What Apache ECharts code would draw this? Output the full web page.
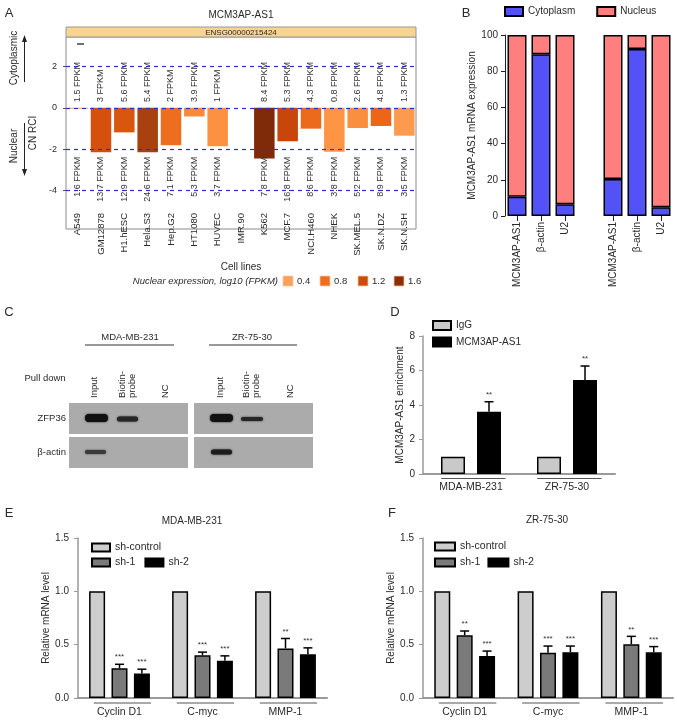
<!DOCTYPE html>
<html><head><meta charset="utf-8">
<script src="https://cdn.jsdelivr.net/npm/echarts@6/dist/echarts.min.js"></script>
<style>html,body{margin:0;padding:0;background:#fff}#c{width:677px;height:721px}</style>
</head><body><div id="c"></div>
<script>
// ---------- Panel A data ----------
const cellLines = ['A549','GM12878','H1.hESC','Hela.S3','Hep.G2','HT1080','HUVEC','IMR.90','K562','MCF.7','NCI.H460','NHEK','SK.MEL.5','SK.N.DZ','SK.N.SH'];
const cnRci = [-0.05,-2.15,-1.19,-2.15,-1.81,-0.42,-1.86,null,-2.45,-1.62,-1.01,-2.13,-0.98,-0.88,-1.35];
const cytoFpkm = ['1.5 FPKM','3 FPKM','5.6 FPKM','5.4 FPKM','2 FPKM','3.9 FPKM','1 FPKM','','8.4 FPKM','5.3 FPKM','4.3 FPKM','0.8 FPKM','2.6 FPKM','4.8 FPKM','1.3 FPKM'];
const nucFpkm = ['1.6 FPKM','13.7 FPKM','12.9 FPKM','24.6 FPKM','7.1 FPKM','5.3 FPKM','3.7 FPKM','','7.8 FPKM','16.8 FPKM','8.6 FPKM','3.8 FPKM','5.2 FPKM','8.9 FPKM','3.5 FPKM'];
const aTicks = [-4,-2,0,2];
const aRefLines = [2,0,-2,-4];
const nucLegendSteps = ['0.4','0.8','1.2','1.6'];
// ---------- Panel B data ----------
const bCats = ['MCM3AP-AS1','β-actin','U2','','MCM3AP-AS1','β-actin','U2'];
const bCytoplasm = [10.7,89.3,6.5,null,20.4,92.3,4.8];
const bNucleus = [89.3,10.7,93.5,null,79.6,7.7,95.2];
// ---------- Panel D data ----------
const dCats = ['MDA-MB-231','ZR-75-30'];
const dIgG = [1,1];
const dMCM = [3.61,5.45];
const dMCMErr = [0.58,0.81];
const dStars = ['**','**'];
// ---------- Panel E / F data ----------
const geneCats = ['Cyclin D1','C-myc','MMP-1'];
const eControl = [1,1,1];
const eSh1 = [0.28,0.40,0.465];
const eSh1Err = [0.036,0.03,0.093];
const eSh1Stars = ['***','***','**'];
const eSh2 = [0.23,0.35,0.41];
const eSh2Err = [0.04,0.045,0.06];
const eSh2Stars = ['***','***','***'];
const fControl = [1,1,1];
const fSh1 = [0.588,0.425,0.503];
const fSh1Err = [0.04,0.062,0.075];
const fSh1Stars = ['**','***','**'];
const fSh2 = [0.394,0.43,0.428];
const fSh2Err = [0.046,0.057,0.054];
const fSh2Stars = ['***','***','***'];

// ---------- styles ----------
const FONT = "'Liberation Sans', Arial, Helvetica, sans-serif";
const TXT = '#2a2a2a';
const aColors = ['#FDA05A','#D4500C','#D9560F','#A8400F','#EF6D1E','#F7893A','#FC9141','#FC9141','#7F2A08','#C8460C','#EC6A1C','#FD9545','#FA8F3F','#EB6617','#FD9A4E'];
const legendColors = ['#FDA05A','#F26D1B','#CC4C0A','#8C2D04'];

const chart = echarts.init(document.getElementById('c'), null, {renderer:'canvas'});

function errSeries(xi, vals, errs, stars, idx, nBars, barW, gap) {
  return {
    type:'custom', xAxisIndex:xi, yAxisIndex:xi, z:5, clip:false, silent:true,
    data: vals.map((v,i)=>[i, v, v+errs[i]]),
    renderItem(params, api){
      const c = api.coord([api.value(0), api.value(1)]);
      const t = api.coord([api.value(0), api.value(2)]);
      const x = c[0] + (idx - (nBars-1)/2) * (barW + gap);
      return {type:'group', children:[
        {type:'line', shape:{x1:x,y1:c[1],x2:x,y2:t[1]}, style:{stroke:'#000',lineWidth:1.5}},
        {type:'line', shape:{x1:x-4.5,y1:t[1],x2:x+4.5,y2:t[1]}, style:{stroke:'#000',lineWidth:1.5}},
        {type:'text', x:x, y:t[1]-3, style:{text:stars[params.dataIndex], align:'center', verticalAlign:'bottom', fontSize:8, fontFamily:FONT, fill:'#333'}}
      ]};
    }
  };
}
function underlineSeries(xi, n, l, r, dy) {
  return {
    type:'custom', xAxisIndex:xi, yAxisIndex:xi, clip:false, silent:true,
    data: Array.from({length:n}, (_, i) => [i, 0]),
    renderItem(params, api){
      const c = api.coord([api.value(0), 0]);
      const bw = api.size([1,0])[0];
      return {type:'line', shape:{x1:c[0]-bw*l, y1:c[1]+dy, x2:c[0]+bw*r, y2:c[1]+dy}, style:{stroke:'#555', lineWidth:1}};
    }
  };
}
function fpkmText(texts, y, align) {
  return {
    type:'custom', xAxisIndex:0, yAxisIndex:0, clip:false, silent:true, z:6,
    data: texts.map((t,i)=>[i, y]),
    renderItem(params, api){
      const p = api.coord([api.value(0), api.value(1)]);
      return {type:'text', x:p[0], y:p[1], rotation:Math.PI/2,
        style:{text:texts[params.dataIndex], align:align, verticalAlign:'middle', fontSize:9, fontFamily:FONT, fill:'#333'}};
    }
  };
}

const greyAxis = {lineStyle:{color:'#9a9a9a', width:2}};
const valueAxisCommon = {
  axisLine:{show:true, lineStyle:{color:'#9a9a9a', width:1.5}},
  axisTick:{show:true, length:4, lineStyle:{color:'#9a9a9a'}},
  splitLine:{show:false},
  axisLabel:{fontSize:10, color:TXT, fontFamily:FONT, margin:8},
  nameLocation:'middle', nameRotate:90,
  nameTextStyle:{fontSize:10, color:TXT, fontFamily:FONT}
};

// graphic elements
const G = [];
function txt(x,y,text,o){ G.push(Object.assign({type:'text', x:x, y:y, silent:true,
  style:Object.assign({text:text, fontSize:10, fontFamily:FONT, fill:TXT, align:'center', verticalAlign:'middle'}, (o&&o.style)||{})},
  o&&o.rotation?{rotation:o.rotation}:{})); }
// panel letters
[['A',9,13],['B',466,13],['C',9,312],['D',395,312],['E',9,513],['F',392,513]].forEach(a=>txt(a[1],a[2],a[0],{style:{fontSize:13}}));
// Panel A decorations
txt(241,15,'MCM3AP-AS1');
G.push({type:'rect', shape:{x:66,y:27,width:350,height:10}, style:{fill:'#F7D48F', stroke:'#999', lineWidth:1}, silent:true});
txt(241,32.5,'ENSG00000215424',{style:{fontSize:8}});
G.push({type:'line', shape:{x1:77,y1:44,x2:84,y2:44}, style:{stroke:'#222', lineWidth:1.3}, silent:true});
txt(14,58,'Cytoplasmic',{rotation:Math.PI/2});
txt(14,146,'Nuclear',{rotation:Math.PI/2});
G.push({type:'line', shape:{x1:24.5,y1:82,x2:24.5,y2:40}, style:{stroke:'#222', lineWidth:1}, silent:true});
G.push({type:'polygon', shape:{points:[[24.5,35],[22,42],[27,42]]}, style:{fill:'#222'}, silent:true});
G.push({type:'line', shape:{x1:24.5,y1:123,x2:24.5,y2:170}, style:{stroke:'#222', lineWidth:1}, silent:true});
G.push({type:'polygon', shape:{points:[[24.5,176],[22,169],[27,169]]}, style:{fill:'#222'}, silent:true});
txt(278,281,'Nuclear expression, log10 (FPKM)',{style:{align:'right', fontStyle:'italic', fontSize:9.5}});
const legX = [283,320,358,394];
nucLegendSteps.forEach((s,i)=>{
  G.push({type:'rect', shape:{x:legX[i],y:276,width:10,height:10}, style:{fill:legendColors[i], stroke:'#f4c9a8', lineWidth:0.8}, silent:true});
  txt(legX[i]+14,281,s,{style:{align:'left', fontSize:9.5}});
});
// Panel C (western blot)
txt(130,337,'MDA-MB-231',{style:{fontSize:9.5}});
txt(252,337,'ZR-75-30',{style:{fontSize:9.5}});
G.push({type:'line', shape:{x1:85,y1:345,x2:174,y2:345}, style:{stroke:'#333', lineWidth:1}, silent:true});
G.push({type:'line', shape:{x1:209,y1:345,x2:297,y2:345}, style:{stroke:'#333', lineWidth:1}, silent:true});
txt(45,378,'Pull down',{style:{fontSize:9.5}});
[[94,'Input'],[127.5,'Biotin-\nprobe'],[165,'NC'],[220,'Input'],[251.5,'Biotin-\nprobe'],[290,'NC']].forEach(c=>{
  txt(c[0],398,c[1],{rotation:Math.PI/2, style:{align:'left', fontSize:9.5, lineHeight:9.5}});
});
[[69,403],[194,403],[69,437],[194,437]].forEach(b=>{
  G.push({type:'rect', shape:{x:b[0],y:b[1],width:119,height:31}, style:{fill:'#ABABAB'}, silent:true});
});
txt(66,418,'ZFP36',{style:{align:'right', fontSize:9.5}});
txt(66,452,'β-actin',{style:{align:'right', fontSize:9.5}});
[[85,414,23,8,'#111'],[117,416.5,21,5,'#262626'],[210,414,23,8,'#111'],[241,417,22,4,'#262626'],[85,450,21,4,'#3a3a3a'],[211,449.5,21,5,'#1c1c1c']].forEach(b=>{
  G.push({type:'rect', shape:{x:b[0],y:b[1],width:b[2],height:b[3],r:b[3]/2}, style:{fill:b[4], shadowBlur:2, shadowColor:b[4]}, silent:true});
});
// E/F titles
txt(192,521,'MDA-MB-231');
txt(547,520,'ZR-75-30');

const legendBase = {padding:0, icon:'rect', selectedMode:false, textStyle:{fontSize:10,color:TXT,fontFamily:FONT}};
const L = o => Object.assign({}, legendBase, o);
const option = {
  animation:false,
  textStyle:{fontFamily:FONT},
  graphic:G,
  legend:[
    L({data:['Cytoplasm','Nucleus'], left:504, top:6, itemWidth:18, itemHeight:9, itemGap:21}),
    L({data:['IgG','MCM3AP-AS1'], orient:'vertical', left:432, top:320, itemWidth:18, itemHeight:9, itemGap:5.5}),
    L({data:['sh-control'], left:91, top:542, itemWidth:18, itemHeight:8, textStyle:{fontSize:10.5,color:TXT,fontFamily:FONT}}),
    L({data:['sh-1','sh-2'], left:91, top:557, itemWidth:18, itemHeight:8, itemGap:9, textStyle:{fontSize:10.5,color:TXT,fontFamily:FONT}}),
    L({data:['sh-control'], left:434, top:541, itemWidth:20, itemHeight:8, textStyle:{fontSize:10.5,color:TXT,fontFamily:FONT}}),
    L({data:['sh-1','sh-2'], left:434, top:557, itemWidth:20, itemHeight:8, itemGap:7, textStyle:{fontSize:10.5,color:TXT,fontFamily:FONT}})
  ],
  grid:[
    {left:66, top:37, width:350, height:192, show:true, borderColor:'#8a8a8a', borderWidth:1, backgroundColor:'transparent'},
    {left:505, top:35, width:168, height:181},
    {left:423, top:336, width:192, height:138},
    {left:78, top:538, width:249, height:160},
    {left:423, top:538, width:250, height:160}
  ],
  xAxis:[
    {gridIndex:0, type:'category', data:cellLines, axisLine:{show:false}, axisTick:{show:false},
     axisLabel:{interval:0, rotate:90, margin:-16, fontSize:9.5, color:TXT, fontFamily:FONT},
     name:'Cell lines', nameLocation:'middle', nameGap:33, nameTextStyle:{fontSize:10,color:TXT,fontFamily:FONT}},
    {gridIndex:1, type:'category', data:bCats, axisLine:{show:false},
     axisTick:{show:true, alignWithLabel:true, length:5, lineStyle:{color:'#222'}, interval:(i,v)=>v!==''},
     axisLabel:{interval:0, rotate:90, margin:6, fontSize:10, color:TXT, fontFamily:FONT}},
    {gridIndex:2, type:'category', data:dCats, axisLine:Object.assign({show:true},greyAxis), axisTick:{show:false},
     axisLabel:{fontSize:10.5, color:TXT, fontFamily:FONT, margin:8}},
    {gridIndex:3, type:'category', data:geneCats, axisLine:Object.assign({show:true},greyAxis), axisTick:{show:false},
     axisLabel:{fontSize:10.5, color:TXT, fontFamily:FONT, margin:9}},
    {gridIndex:4, type:'category', data:geneCats, axisLine:Object.assign({show:true},greyAxis), axisTick:{show:false},
     axisLabel:{fontSize:10.5, color:TXT, fontFamily:FONT, margin:9}}
  ],
  yAxis:[
    {gridIndex:0, type:'value', min:-5.86, max:3.42, axisLine:{show:false}, splitLine:{show:false},
     axisTick:{show:true, length:3, customValues:aTicks, lineStyle:{color:'#555'}},
     axisLabel:{customValues:aTicks, fontSize:9, color:TXT, fontFamily:FONT, margin:9},
     name:'CN RCI', nameLocation:'middle', nameRotate:90, nameGap:20, nameTextStyle:{fontSize:10,color:TXT,fontFamily:FONT}},
    {gridIndex:1, type:'value', min:0, max:100, interval:20, splitLine:{show:false},
     axisLine:{show:true, lineStyle:{color:'#222', width:1}}, axisTick:{show:true, length:4, lineStyle:{color:'#222'}},
     axisLabel:{fontSize:10, color:TXT, fontFamily:FONT, margin:7},
     name:'MCM3AP-AS1 mRNA expression', nameLocation:'middle', nameRotate:90, nameGap:28, nameTextStyle:{fontSize:10,color:TXT,fontFamily:FONT}},
    Object.assign({gridIndex:2, type:'value', min:0, max:8, interval:2, name:'MCM3AP-AS1 enrichment', nameGap:17}, valueAxisCommon),
    Object.assign({gridIndex:3, type:'value', min:0, max:1.5, interval:0.5, name:'Relative mRNA level', nameGap:26}, valueAxisCommon,
      {axisLabel:Object.assign({}, valueAxisCommon.axisLabel, {formatter:v=>v.toFixed(1), margin:9})}),
    Object.assign({gridIndex:4, type:'value', min:0, max:1.5, interval:0.5, name:'Relative mRNA level', nameGap:25}, valueAxisCommon,
      {axisLabel:Object.assign({}, valueAxisCommon.axisLabel, {formatter:v=>v.toFixed(1), margin:9})})
  ],
  series:[
    // Panel A
    {type:'bar', xAxisIndex:0, yAxisIndex:0, barWidth:20.5, silent:true,
     data:cnRci.map((v,i)=>({value:v, itemStyle:{color:aColors[i]}})),
     markLine:{silent:true, symbol:'none', label:{show:false}, z:10,
       lineStyle:{type:[4,4], color:'#2C2CD8', width:1.2},
       data:aRefLines.map(v=>({yAxis:v}))}},
    fpkmText(cytoFpkm, 0.28, 'left'),
    fpkmText(nucFpkm, -2.37, 'right'),
    // Panel B
    {name:'Cytoplasm', type:'bar', stack:'b', xAxisIndex:1, yAxisIndex:1, barWidth:19, data:bCytoplasm,
     itemStyle:{color:'#5252F7', borderColor:'#000', borderWidth:1.5}},
    {name:'Nucleus', type:'bar', stack:'b', xAxisIndex:1, yAxisIndex:1, barWidth:19, data:bNucleus,
     itemStyle:{color:'#FF7F7F', borderColor:'#000', borderWidth:1.5}},
    // Panel D
    {name:'IgG', type:'bar', xAxisIndex:2, yAxisIndex:2, barWidth:24, barGap:'50%', data:dIgG,
     itemStyle:{color:'#C9C9C9', borderColor:'#000', borderWidth:1.5}},
    {name:'MCM3AP-AS1', type:'bar', xAxisIndex:2, yAxisIndex:2, barWidth:24, barGap:'50%', data:dMCM,
     itemStyle:{color:'#000', borderColor:'#000', borderWidth:1.5}},
    errSeries(2, dMCM, dMCMErr, dStars, 1, 2, 24, 12),
    underlineSeries(2, dCats.length, 0.31, 0.36, 4.5),
    // Panel E
    {name:'sh-control', type:'bar', xAxisIndex:3, yAxisIndex:3, barWidth:16, barGap:'40%', data:eControl,
     itemStyle:{color:'#CDCDCD', borderColor:'#000', borderWidth:1.5}},
    {name:'sh-1', type:'bar', xAxisIndex:3, yAxisIndex:3, barWidth:16, barGap:'40%', data:eSh1,
     itemStyle:{color:'#7A7A7A', borderColor:'#000', borderWidth:1.5}},
    {name:'sh-2', type:'bar', xAxisIndex:3, yAxisIndex:3, barWidth:16, barGap:'40%', data:eSh2,
     itemStyle:{color:'#000', borderColor:'#000', borderWidth:1.5}},
    errSeries(3, eSh1, eSh1Err, eSh1Stars, 1, 3, 16, 6.4),
    errSeries(3, eSh2, eSh2Err, eSh2Stars, 2, 3, 16, 6.4),
    underlineSeries(3, geneCats.length, 0.31, 0.38, 5),
    // Panel F
    {name:'sh-control', type:'bar', xAxisIndex:4, yAxisIndex:4, barWidth:16, barGap:'40%', data:fControl,
     itemStyle:{color:'#CDCDCD', borderColor:'#000', borderWidth:1.5}},
    {name:'sh-1', type:'bar', xAxisIndex:4, yAxisIndex:4, barWidth:16, barGap:'40%', data:fSh1,
     itemStyle:{color:'#7A7A7A', borderColor:'#000', borderWidth:1.5}},
    {name:'sh-2', type:'bar', xAxisIndex:4, yAxisIndex:4, barWidth:16, barGap:'40%', data:fSh2,
     itemStyle:{color:'#000', borderColor:'#000', borderWidth:1.5}},
    errSeries(4, fSh1, fSh1Err, fSh1Stars, 1, 3, 16, 6.4),
    errSeries(4, fSh2, fSh2Err, fSh2Stars, 2, 3, 16, 6.4),
    underlineSeries(4, geneCats.length, 0.31, 0.38, 5)
  ]
};
chart.setOption(option);
</script>
</body></html>
